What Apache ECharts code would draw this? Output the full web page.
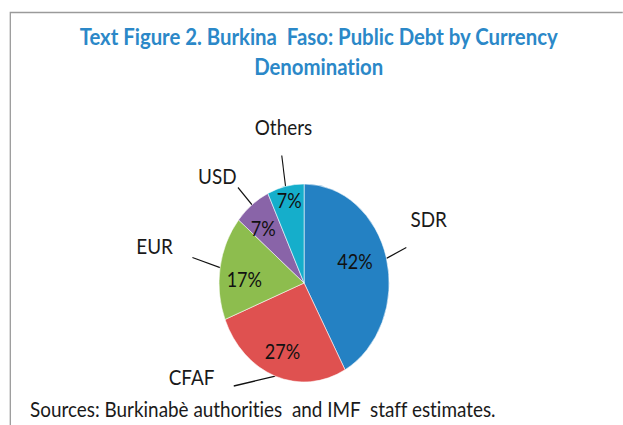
<!DOCTYPE html>
<html>
<head>
<meta charset="utf-8">
<script src="https://cdn.jsdelivr.net/npm/echarts@6/dist/echarts.min.js"></script>
<style>
html, body { margin: 0; padding: 0; background: #fff; overflow: hidden; }
/* source figure is horizontally squeezed, so draw wide and squeeze it */
#chart { width: 725px; height: 425px; transform: scaleX(0.859); transform-origin: 0 0; }
#chart text { font-variant-ligatures: none !important; font-feature-settings: "liga" 0, "clig" 0 !important; }
</style>
</head>
<body>
<div id="chart"></div>
<script>
var currencies = ['SDR', 'CFAF', 'EUR', 'USD', 'Others'];
var shares = [42, 27, 17, 7, 7];

var pieData = currencies.map(function (name, i) {
    return { name: name, value: shares[i] };
});

// where the hand-placed labels and leader lines sit (chart px, before squeeze)
var nameLabelAt = [[499, 218], [223, 376], [180, 245], [253, 175], [330, 126]];
var leaderEnd = [[473, 247], [272, 386], [224, 257], [277, 187], [328, 155]];
var pctNudge = [[-13, -4], [0, -2], [4, 8], [-2, 4], [-1, -10]];

var myChart = echarts.init(document.getElementById('chart'), null, { renderer: 'svg' });
var font = 'Lato, "Open Sans", sans-serif';
var center = [354, 283];

var option = {
    animation: false,
    color: ['#2481C3', '#DF5150', '#8DBD4E', '#8964A8', '#15AECB'],
    title: {
        text: 'Text Figure 2. Burkina  Faso: Public Debt by Currency\nDenomination',
        left: 366,
        top: 16,
        textAlign: 'center',
        textStyle: {
            color: '#2B88C8',
            fontFamily: font,
            fontWeight: 'bold',
            fontSize: 23.7,
            lineHeight: 30
        }
    },
    graphic: [
        {
            type: 'rect',
            shape: { x: 12, y: 12.5, width: 900, height: 600 },
            style: { fill: 'none', stroke: '#9a9a9a', lineWidth: 1.5 },
            silent: true
        },
        {
            type: 'text',
            left: 35,
            top: 397,
            style: {
                text: 'Sources: Burkinabè authorities  and IMF  staff estimates.',
                fill: '#1a1a1a',
                font: '22px ' + font
            },
            silent: true
        }
    ],
    series: [
        {
            // slices + leader lines
            type: 'pie',
            center: center,
            radius: 99,
            startAngle: 90,
            clockwise: true,
            data: pieData,
            itemStyle: { borderColor: '#fff', borderWidth: 0.6 },
            label: {
                show: true,
                position: 'outside',
                formatter: ' ',
                fontSize: 1
            },
            labelLine: {
                show: true,
                length: 20,
                length2: 0,
                lineStyle: { color: '#111', width: 1.3 }
            },
            labelLayout: function (p) {
                var e = leaderEnd[p.dataIndex];
                return { x: e[0], y: e[1], align: 'center', verticalAlign: 'middle' };
            }
        },
        {
            // category names
            type: 'pie',
            center: center,
            radius: 99,
            startAngle: 90,
            clockwise: true,
            silent: true,
            data: pieData,
            itemStyle: { color: 'rgba(0,0,0,0)' },
            label: {
                show: true,
                position: 'outside',
                formatter: '{b}',
                color: '#1a1a1a',
                fontFamily: font,
                fontSize: 22
            },
            labelLine: { show: false },
            labelLayout: function (p) {
                var e = nameLabelAt[p.dataIndex];
                return { x: e[0], y: e[1], align: 'center', verticalAlign: 'middle' };
            }
        },
        {
            // percentages inside slices
            type: 'pie',
            center: center,
            radius: [44, 99],
            startAngle: 90,
            clockwise: true,
            silent: true,
            data: pieData,
            itemStyle: { color: 'rgba(0,0,0,0)' },
            label: {
                show: true,
                position: 'inside',
                formatter: '{c}%',
                color: '#111',
                fontFamily: font,
                fontSize: 21
            },
            labelLine: { show: false },
            labelLayout: function (p) {
                var d = pctNudge[p.dataIndex];
                return { dx: d[0], dy: d[1] };
            }
        }
    ]
};

myChart.setOption(option);
</script>
</body>
</html>
